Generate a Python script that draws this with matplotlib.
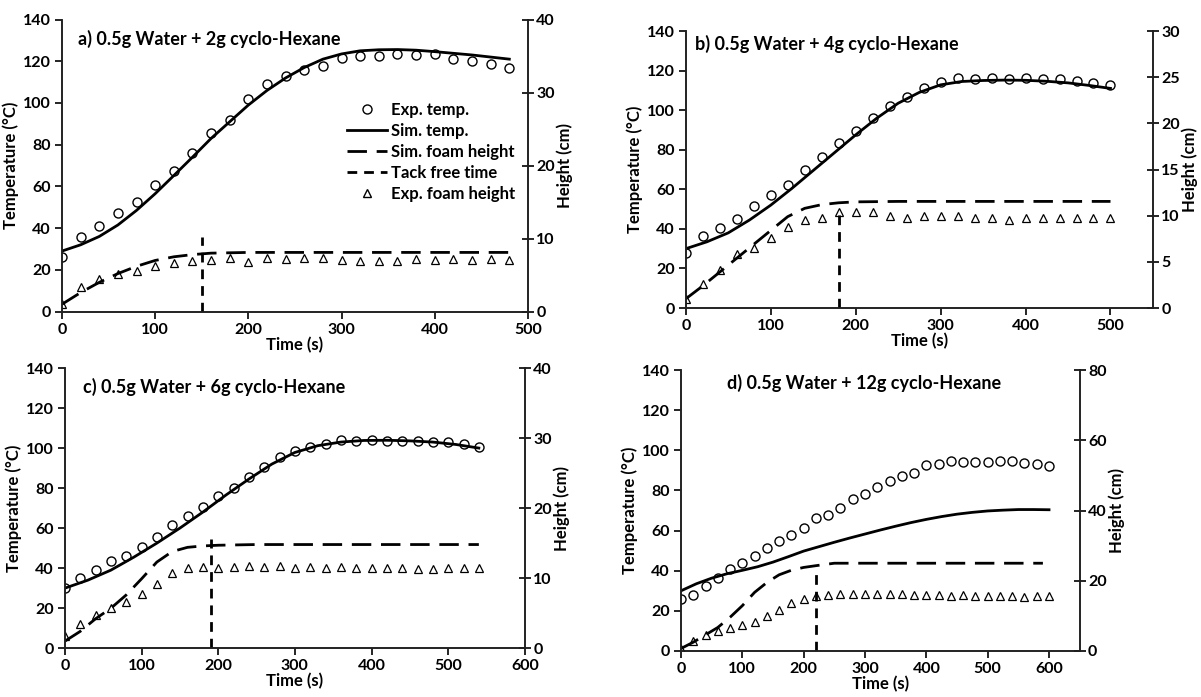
import numpy as np
import matplotlib
matplotlib.use('Agg')
import matplotlib.pyplot as plt
from matplotlib.lines import Line2D

plt.rcParams['font.family'] = ['Lato', 'DejaVu Sans']
plt.rcParams['font.weight'] = 'bold'

# ---- panel a) 0.5g Water + 2g cyclo-Hexane
a_t_exp = np.arange(0, 481, 20)
a_temp_exp = [26.2, 35.9, 41.1, 47.4, 52.5, 60.6, 67.5, 76.1, 85.5, 92.0, 101.8, 108.9, 113.1,
              116.0, 117.9, 121.4, 122.6, 122.6, 123.6, 123.1, 123.3, 120.9, 119.9, 118.7, 116.7]
a_h_exp = [1.0, 3.3, 4.4, 5.1, 5.5, 6.3, 6.7, 6.9, 7.1, 7.3, 6.8, 7.3, 7.2, 7.3, 7.3, 7.1,
           6.9, 6.9, 6.9, 7.2, 7.1, 7.2, 7.1, 7.2, 7.0]
a_t_sim = np.arange(0, 481, 20)
a_temp_sim = [29, 32, 36, 41.5, 48.5, 56.5, 65.2, 74, 83, 91, 99, 106, 112, 117, 121, 123.5,
              125, 125.5, 125.6, 125.3, 124.6, 123.8, 123, 122, 121]
a_h_sim = [1.0, 2.6, 4.0, 5.2, 6.2, 7.0, 7.5, 7.8, 8.0, 8.05, 8.1, 8.1, 8.1, 8.1, 8.1, 8.1,
           8.1, 8.1, 8.1, 8.1, 8.1, 8.1, 8.1, 8.1, 8.1]
a_tack = 150
a_tack_h = 10.2

# ---- panel b) 0.5g Water + 4g cyclo-Hexane
b_t_exp = np.arange(0, 501, 20)
b_temp_exp = [27.9, 36.5, 40.7, 45.2, 51.6, 56.9, 62.4, 69.9, 76.1, 83.3, 89.3, 96.1, 102.1,
              106.6, 111.4, 114.0, 116.3, 115.8, 116.1, 115.8, 116.3, 115.8, 116.0, 114.6,
              113.6, 112.6]
b_h_exp = [0.97, 2.57, 4.15, 5.83, 6.47, 7.58, 8.83, 9.51, 9.8, 10.37, 10.37, 10.37, 9.94,
           9.72, 10.0, 9.94, 9.94, 9.7, 9.72, 9.5, 9.72, 9.8, 9.8, 9.78, 9.72, 9.8]
b_t_sim = np.arange(0, 501, 25)
b_temp_sim = [30, 33.5, 38, 44.5, 52, 60.5, 69.5, 78.5, 87.5, 96, 103.5, 109, 112.8, 114.5,
              115, 115.2, 115.1, 114.6, 113.8, 112.5, 111]
b_t_hsim = [0, 20, 40, 60, 80, 100, 120, 140, 160, 180, 200, 250, 300, 350, 400, 450, 500]
b_h_sim = [1.0, 2.4, 3.9, 5.4, 6.9, 8.4, 9.9, 10.8, 11.2, 11.4, 11.5, 11.55, 11.55, 11.55,
           11.55, 11.55, 11.55]
b_tack = 180
b_tack_h = 10.5

# ---- panel c) 0.5g Water + 6g cyclo-Hexane
c_t_exp = np.arange(0, 541, 20)
c_temp_exp = [29.9, 34.9, 39.2, 43.7, 46.2, 50.8, 55.6, 61.6, 66.3, 70.4, 76.2, 80.2, 85.5,
              90.4, 95.5, 98.5, 100.3, 102.2, 104.2, 103.7, 103.8, 103.3, 103.5, 103.5, 103.0,
              103.0, 101.8, 100.3]
c_h_exp = [1.8, 3.4, 4.7, 5.8, 6.55, 7.8, 9.2, 10.8, 11.4, 11.6, 11.4, 11.6, 11.8, 11.6, 11.7,
           11.5, 11.6, 11.5, 11.6, 11.4, 11.4, 11.4, 11.5, 11.35, 11.3, 11.4, 11.4, 11.4]
c_t_sim = np.arange(0, 541, 30)
c_temp_sim = [30, 34, 39, 45.5, 52.5, 60, 68, 76.5, 84.5, 92, 97.8, 101.2, 103, 103.8, 103.9,
              103.6, 103, 101.8, 100]
c_t_hsim = [0, 20, 40, 60, 80, 100, 120, 140, 160, 180, 200, 250, 300, 350, 400, 450, 500, 540]
c_h_sim = [1.0, 2.4, 4.2, 5.7, 7.6, 9.9, 12.3, 13.8, 14.4, 14.6, 14.7, 14.8, 14.8, 14.8, 14.8,
           14.8, 14.8, 14.8]
c_tack = 190
c_tack_h = 15.6

# ---- panel d) 0.5g Water + 12g cyclo-Hexane
d_t_exp = np.arange(0, 601, 20)
d_temp_exp = [26.0, 28.1, 32.4, 36.2, 40.8, 43.8, 47.4, 51.4, 54.9, 57.9, 61.3, 66.1, 67.8,
              71.2, 75.9, 78.3, 81.5, 84.8, 87.3, 88.9, 92.6, 93.2, 94.7, 94.2, 94.2, 94.2,
              94.7, 94.9, 93.6, 93.2, 92.4]
d_h_exp = [0.7, 2.8, 4.6, 5.7, 6.5, 7.3, 8.2, 10.1, 11.8, 13.7, 14.8, 15.6, 16.0, 16.1, 16.1,
           16.2, 16.2, 16.1, 16.1, 16.0, 16.0, 16.0, 15.8, 15.9, 15.7, 15.8, 15.7, 15.8, 15.5,
           15.7, 15.7]
d_t_sim = np.arange(0, 601, 25)
d_temp_sim = [30, 33.5, 36.3, 38.5, 40.2, 42, 44.3, 47, 49.8, 52, 54.2, 56.3, 58.3, 60.3, 62.2,
              64, 65.6, 67, 68.2, 69.1, 69.8, 70.2, 70.5, 70.5, 70.4]
d_t_hsim = [0, 20, 40, 60, 80, 100, 120, 140, 160, 180, 200, 220, 250, 300, 350, 400, 450, 500,
            550, 590]
d_h_sim = [0.7, 2.5, 4.6, 6.7, 9.6, 12.9, 16.7, 19.5, 21.7, 23.0, 23.8, 24.3, 25.0, 25.0, 25.0,
           25.0, 25.0, 25.0, 25.0, 25.0]
d_tack = 220
d_tack_h = 23.3

panels = [
    dict(title='a) 0.5g Water + 2g cyclo-Hexane', pos=[0.0516, 0.553, 0.388, 0.419],
         te=a_t_exp, ye=a_temp_exp, he=a_h_exp, ts=a_t_sim, ys=a_temp_sim, th=a_t_sim, hs=a_h_sim,
         tack=a_tack, tackh=a_tack_h, xlim=500, xt=np.arange(0, 501, 100), hlim=40, ht=10,
         tpos=(0.035, 0.965)),
    dict(title='b) 0.5g Water + 4g cyclo-Hexane', pos=[0.571, 0.558, 0.389, 0.3975],
         te=b_t_exp, ye=b_temp_exp, he=b_h_exp, ts=b_t_sim, ys=b_temp_sim, th=b_t_hsim, hs=b_h_sim,
         tack=b_tack, tackh=b_tack_h, xlim=550, xt=np.arange(0, 501, 100), hlim=30, ht=5,
         tpos=(0.02, 0.985)),
    dict(title='c) 0.5g Water + 6g cyclo-Hexane', pos=[0.054, 0.070, 0.383, 0.402],
         te=c_t_exp, ye=c_temp_exp, he=c_h_exp, ts=c_t_sim, ys=c_temp_sim, th=c_t_hsim, hs=c_h_sim,
         tack=c_tack, tackh=c_tack_h, xlim=600, xt=np.arange(0, 601, 100), hlim=40, ht=10,
         tpos=(0.04, 0.965)),
    dict(title='d) 0.5g Water + 12g cyclo-Hexane', pos=[0.567, 0.066, 0.332, 0.403],
         te=d_t_exp, ye=d_temp_exp, he=d_h_exp, ts=d_t_sim, ys=d_temp_sim, th=d_t_hsim, hs=d_h_sim,
         tack=d_tack, tackh=d_tack_h, xlim=650, xt=np.arange(0, 601, 100), hlim=80, ht=20,
         tpos=(0.115, 0.985)),
]

fig = plt.figure(figsize=(12.01, 6.97), dpi=100, facecolor='white')

long_dash = (0, (7, 3.5))
short_dash = (0, (3.5, 2.5))

for i, p in enumerate(panels):
    ax = fig.add_axes(p['pos'])
    ax2 = ax.twinx()
    ax.plot(p['ts'], p['ys'], color='black', lw=2.0, zorder=3)
    ax.plot(p['te'], p['ye'], 'o', mfc='none', mec='black', ms=6.5, mew=1.0, zorder=4)
    ax2.plot(p['th'], p['hs'], color='black', lw=2.0, linestyle=long_dash)
    ax2.plot([p['tack'], p['tack']], [0, p['tackh']], color='black', lw=2.0, linestyle=short_dash)
    ax2.plot(p['te'], p['he'], '^', mfc='none', mec='black', ms=5.5, mew=0.9)

    ax.set_xlim(0, p['xlim'])
    ax.set_ylim(0, 140)
    ax.set_yticks(np.arange(0, 141, 20))
    ax.set_xticks(p['xt'])
    ax2.set_ylim(0, p['hlim'])
    ax2.set_yticks(np.arange(0, p['hlim'] + 1, p['ht']))

    for a in (ax, ax2):
        a.spines['top'].set_visible(False)
        for s in ('left', 'bottom', 'right'):
            a.spines[s].set_linewidth(1.2)
            a.spines[s].set_color('#222222')
    ax.tick_params(axis='both', direction='out', length=5, width=1.2, labelsize=11.5, pad=3)
    ax2.tick_params(axis='y', direction='inout', length=8, width=1.2, labelsize=11.5, pad=2)
    for lab in ax.get_xticklabels() + ax.get_yticklabels() + ax2.get_yticklabels():
        lab.set_fontweight('bold')

    ax.set_xlabel('Time (s)', fontsize=12, fontweight='bold', labelpad=0)
    ax.set_ylabel('Temperature (°C)', fontsize=12, fontweight='bold', labelpad=3)
    ax2.set_ylabel('Height (cm)', fontsize=12, fontweight='bold', labelpad=1)
    ax.text(p['tpos'][0], p['tpos'][1], p['title'], transform=ax.transAxes,
            fontsize=13, fontweight='bold', va='top', ha='left')

    if i == 0:
        handles = [
            Line2D([], [], marker='o', ls='none', mfc='none', mec='black', ms=6.5),
            Line2D([], [], color='black', lw=2.0),
            Line2D([], [], color='black', lw=2.0, linestyle=long_dash),
            Line2D([], [], color='black', lw=2.0, linestyle=short_dash),
            Line2D([], [], marker='^', ls='none', mfc='none', mec='black', ms=5.5),
        ]
        labels = ['Exp. temp.', 'Sim. temp.', 'Sim. foam height', 'Tack free time', 'Exp. foam height']
        ax.legend(handles, labels, loc='upper left', bbox_to_anchor=(0.58, 0.77), frameon=False,
                  prop={'weight': 'bold', 'size': 12}, handlelength=2.4, labelspacing=0.3,
                  handletextpad=0.2)

fig.savefig('out.png', dpi=100, facecolor='white')
